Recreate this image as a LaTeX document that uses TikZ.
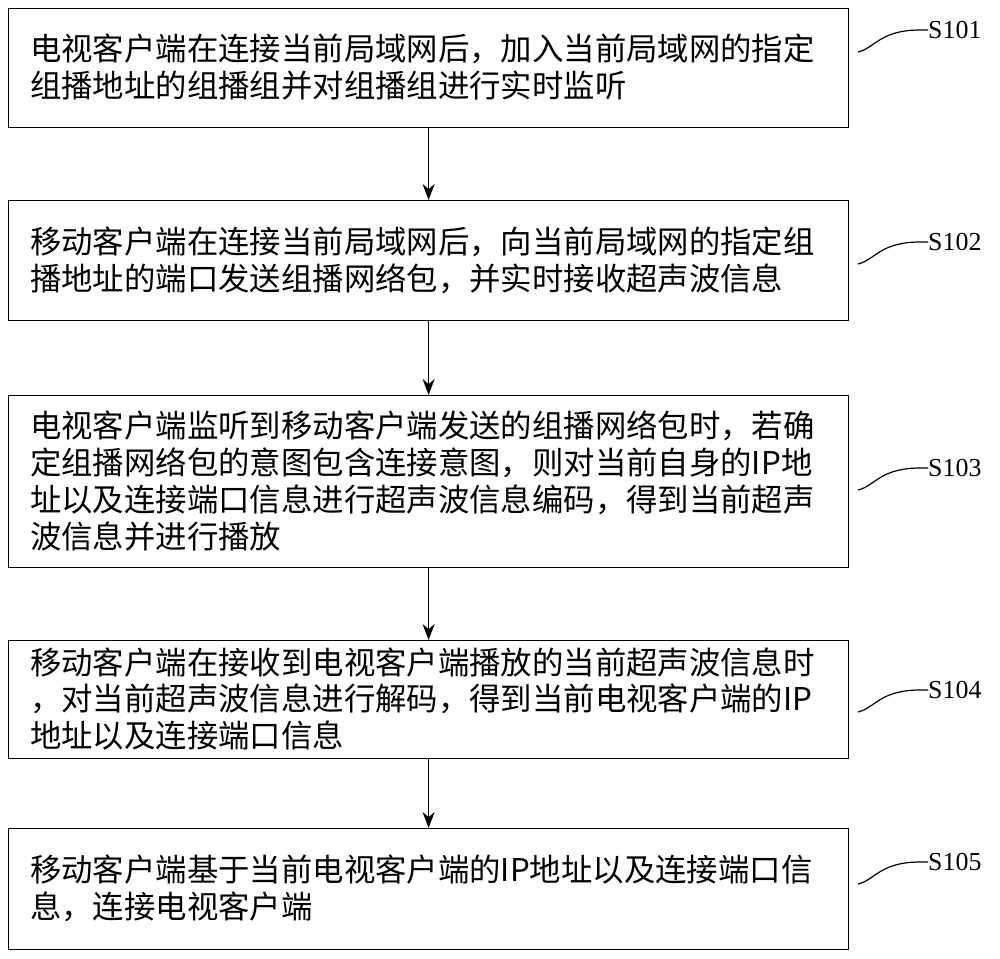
\documentclass[tikz,border=0pt]{standalone}
\usepackage{fontspec}
\setmainfont{Noto Sans CJK SC}
\newfontfamily\lblfont{Liberation Serif}
\usetikzlibrary{arrows.meta}
\begin{document}
\begin{tikzpicture}[x=1bp,y=-1bp,
  stepbox/.style={draw,line width=1.2bp,minimum width=840bp,anchor=north west,inner sep=0pt,align=left},
  txt/.style={anchor=west,align=left,font=\fontsize{31.5}{37}\selectfont,inner sep=0pt},
  lbl/.style={font=\lblfont\fontsize{26}{30}\selectfont,anchor=west,inner sep=0pt},
  arr/.style={-{Stealth[length=16bp,width=12bp]},line width=1.2bp},
  crv/.style={line width=1.2bp}]
\useasboundingbox (0,0) rectangle (1000,959);
\node[stepbox,minimum height=119bp] (b1) at (8,8) {};
\node[stepbox,minimum height=120bp] (b2) at (8,200) {};
\node[stepbox,minimum height=172bp] (b3) at (8,395) {};
\node[stepbox,minimum height=118bp] (b4) at (8,640) {};
\node[stepbox,minimum height=121bp] (b5) at (8,828) {};
\node[txt] (t1) at (30,67) {电视客户端在连接当前局域网后，加入当前局域网的指定\\组播地址的组播组并对组播组进行实时监听};
\node[txt] (t2) at (30,260) {移动客户端在连接当前局域网后，向当前局域网的指定组\\播地址的端口发送组播网络包，并实时接收超声波信息};
\node[txt] (t3) at (30,481) {电视客户端监听到移动客户端发送的组播网络包时，若确\\定组播网络包的意图包含连接意图，则对当前自身的IP地\\址以及连接端口信息进行超声波信息编码，得到当前超声\\波信息并进行播放};
\node[txt] (t4) at (30,699) {移动客户端在接收到电视客户端播放的当前超声波信息时\\，对当前超声波信息进行解码，得到当前电视客户端的IP\\地址以及连接端口信息};
\node[txt] (t5) at (30,888) {移动客户端基于当前电视客户端的IP地址以及连接端口信\\息，连接电视客户端};
\draw[arr] (b1.south) -- (b2.north);
\draw[arr] (b2.south) -- (b3.north);
\draw[arr] (b3.south) -- (b4.north);
\draw[arr] (b4.south) -- (b5.north);
\node[lbl] (l1) at (928,30) {S101};
\node[lbl] (l2) at (928,242) {S102};
\node[lbl] (l3) at (928,468) {S103};
\node[lbl] (l4) at (928,690) {S104};
\node[lbl] (l5) at (928,862) {S105};
\foreach \i/\y in {1/30,2/242,3/468,4/690,5/862}{
  \draw[crv] (l\i.west) -- ++(-8,0) .. controls (880,\y) and (875,\y+18) .. (858,\y+22);
}
\end{tikzpicture}
\end{document}
